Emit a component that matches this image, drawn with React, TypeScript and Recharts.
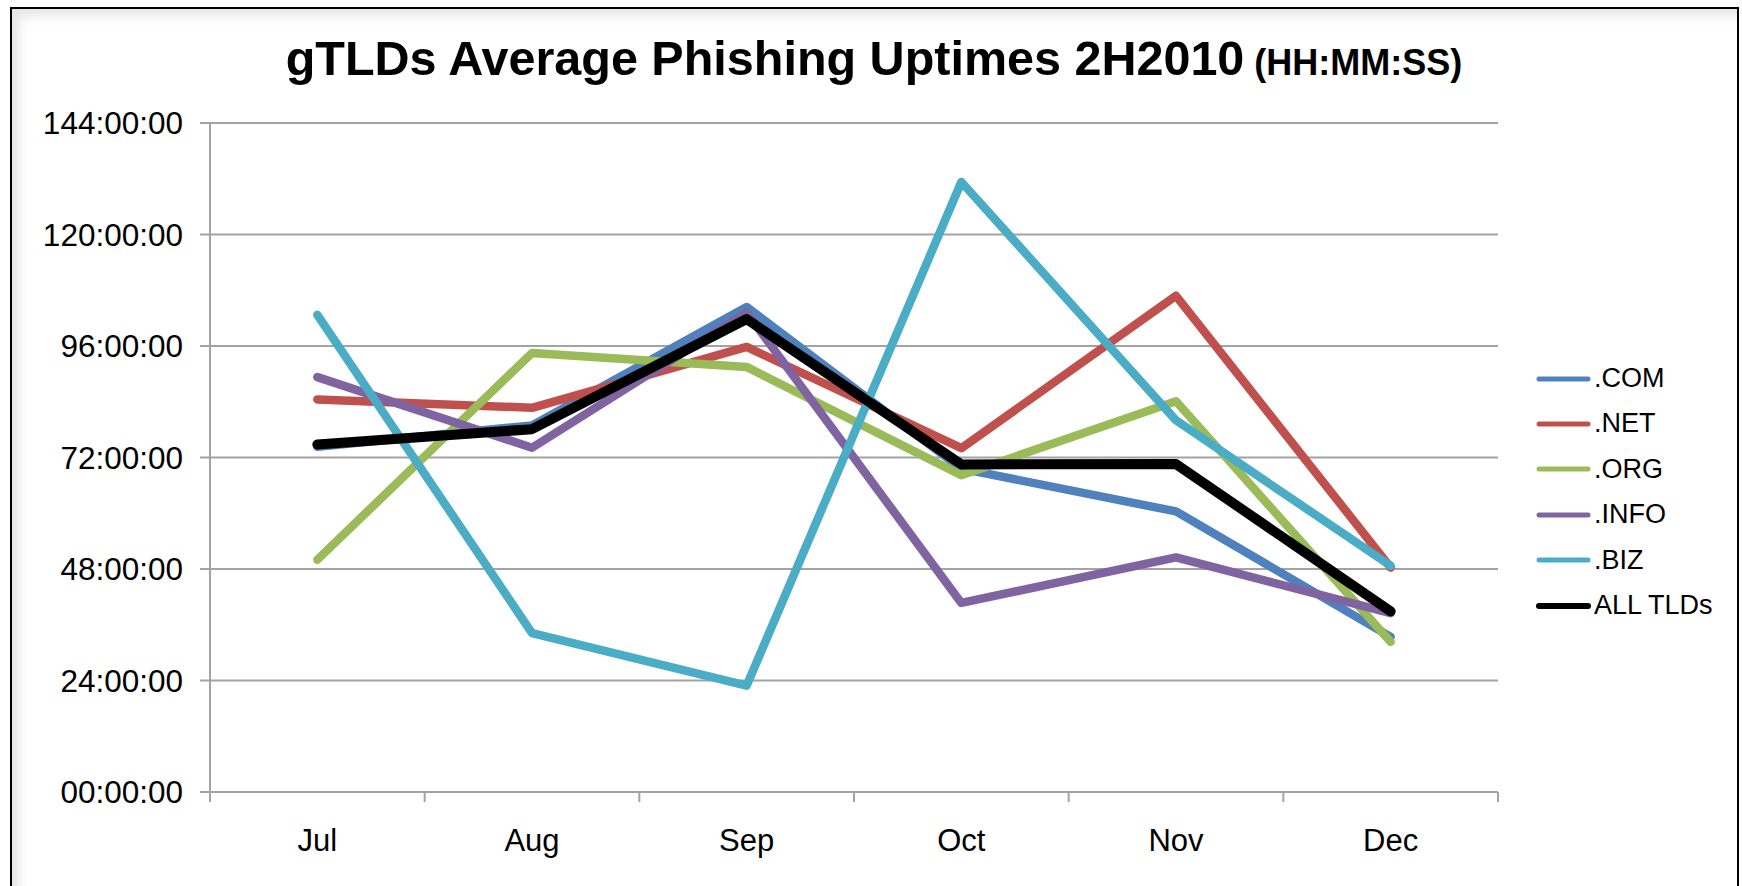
import React from "react";
import { LineChart, Line, XAxis, YAxis, CartesianGrid, Legend } from "recharts";

// Months (categories)
const MONTHS = ["Jul", "Aug", "Sep", "Oct", "Nov", "Dec"];

// Average phishing uptimes in hours
const COM = [74.3, 78.9, 104.4, 69.6, 60.4, 33.4];
const NET = [84.5, 82.7, 95.8, 74.0, 106.8, 48.3];
const ORG = [50.0, 94.5, 91.5, 68.2, 84.1, 32.3];
const INFO = [89.3, 74.1, 103.2, 40.7, 50.5, 38.5];
const BIZ = [102.7, 34.2, 22.9, 131.3, 80.0, 48.7];
const ALL = [74.8, 78.1, 101.8, 70.5, 70.6, 38.9];

// Y tick values (hours)
const Y_TICKS = [0, 24, 48, 72, 96, 120, 144];

const SERIES = [
  { key: "com", name: ".COM", color: "#4F81BD", values: COM, width: 8.5, legendWidth: 5 },
  { key: "net", name: ".NET", color: "#C0504D", values: NET, width: 8.5, legendWidth: 5 },
  { key: "org", name: ".ORG", color: "#9BBB59", values: ORG, width: 8.5, legendWidth: 5 },
  { key: "info", name: ".INFO", color: "#8064A2", values: INFO, width: 8.5, legendWidth: 5 },
  { key: "biz", name: ".BIZ", color: "#4BACC6", values: BIZ, width: 8.5, legendWidth: 5 },
  { key: "all", name: "ALL TLDs", color: "#000000", values: ALL, width: 10, legendWidth: 6 },
];

const data = MONTHS.map((m, i) => {
  const row: any = { i, month: m };
  SERIES.forEach((s) => {
    row[s.key] = s.values[i];
  });
  return row;
});

const X_TICKS: number[] = [];
for (let k = 0; k <= MONTHS.length * 2; k++) X_TICKS.push(k / 2 - 0.5);

const FONT = '"Liberation Sans", Arial, Helvetica, sans-serif';
const GRID = "#A3A3A3";

const fmtHours = (v: number) => `${String(v).padStart(2, "0")}:00:00`;

const XTick = (props: any) => {
  const { x, y, payload } = props;
  const v = payload.value;
  if (Number.isInteger(v)) {
    return (
      <text x={x} y={y} dy={49} textAnchor="middle" fontSize={31} fontFamily={FONT} fill="#000">
        {MONTHS[v]}
      </text>
    );
  }
  return <line x1={x} x2={x} y1={y - 10} y2={y} stroke={GRID} strokeWidth={2} />;
};

const LegendContent = () => (
  <div style={{ fontFamily: FONT, fontSize: 27, color: "#000" }}>
    {SERIES.map((s) => (
      <div key={s.key} style={{ height: 45.4, display: "flex", alignItems: "center", whiteSpace: "nowrap" }}>
        <svg width={55} height={10} style={{ display: "block", marginRight: 3 }}>
          <line x1={3} x2={52} y1={5} y2={5} stroke={s.color} strokeWidth={s.legendWidth} strokeLinecap="round" />
        </svg>
        <span style={{ lineHeight: "45.4px" }}>{s.name}</span>
      </div>
    ))}
  </div>
);

export default function App() {
  return (
    <div
      style={{
        position: "absolute",
        left: 0,
        top: 0,
        width: 1742,
        height: 886,
        overflow: "hidden",
        background: "#fff",
      }}
    >
      <div
        style={{
          position: "absolute",
          left: 10,
          top: 7,
          width: 1729,
          height: 920,
          boxSizing: "border-box",
          border: "2px solid #000",
          boxShadow: "inset 10px 10px 12px -3px rgba(0,0,0,0.10)",
        }}
      />
      <div style={{ position: "absolute", left: 0, top: 0 }}>
        <LineChart
          width={1742}
          height={886}
          data={data}
          margin={{ top: 123, right: 244, bottom: 0, left: 0 }}
        >
          <CartesianGrid vertical={false} stroke={GRID} strokeWidth={2} />
          <XAxis
            dataKey="i"
            type="number"
            domain={[-0.5, MONTHS.length - 0.5]}
            ticks={X_TICKS}
            interval={0}
            height={94}
            tickSize={10}
            tickMargin={0}
            tickLine={false}
            axisLine={{ stroke: GRID, strokeWidth: 2 }}
            tick={<XTick />}
          />
          <YAxis
            type="number"
            domain={[0, 144]}
            ticks={Y_TICKS}
            interval={0}
            width={210}
            tickSize={10}
            tickMargin={17}
            tickFormatter={fmtHours}
            axisLine={{ stroke: GRID, strokeWidth: 2 }}
            tickLine={{ stroke: GRID, strokeWidth: 2 }}
            tick={{ fontSize: 31.5, fontFamily: FONT, fill: "#000" }}
          />
          {SERIES.map((s) => (
            <Line
              key={s.key}
              type="linear"
              dataKey={s.key}
              name={s.name}
              stroke={s.color}
              strokeWidth={s.width}
              strokeLinecap="round"
              strokeLinejoin="round"
              dot={false}
              activeDot={false}
              isAnimationActive={false}
            />
          ))}
          <Legend
            layout="vertical"
            align="center"
            verticalAlign="middle"
            content={<LegendContent />}
            wrapperStyle={{ left: 1536, top: 356, width: 200, height: 275 }}
          />
        </LineChart>
      </div>
      <svg
        width={1742}
        height={120}
        style={{ position: "absolute", left: 0, top: 0, pointerEvents: "none" }}
      >
        <text x={874} y={75} textAnchor="middle" fontFamily={FONT} fontWeight="bold" fill="#000">
          <tspan fontSize={48.5}>gTLDs Average Phishing Uptimes 2H2010</tspan>
          <tspan fontSize={36}> (HH:MM:SS)</tspan>
        </text>
      </svg>
    </div>
  );
}
